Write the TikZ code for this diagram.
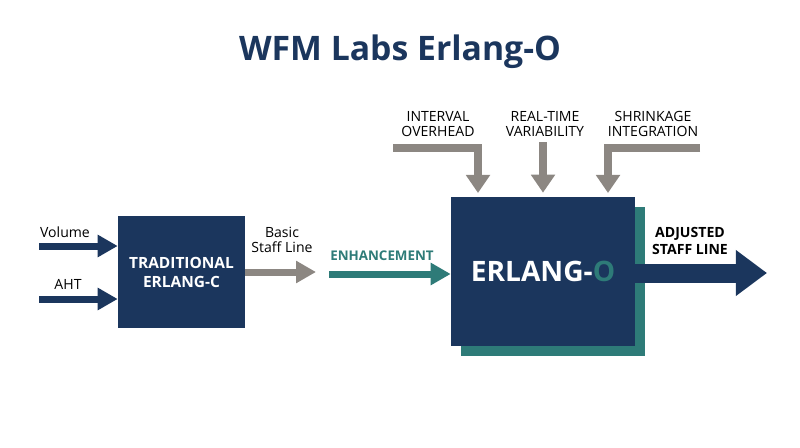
\documentclass[tikz,border=0pt]{standalone}
\usepackage{fontspec}
\setmainfont{Open Sans}
\usetikzlibrary{arrows.meta,shadows}
\definecolor{navy}{HTML}{1B365D}
\definecolor{tealc}{HTML}{2E7B78}
\definecolor{greyc}{HTML}{8C8782}

\begin{document}
\begin{tikzpicture}[
    x=0.025cm,
    y=-0.025cm,
    box/.style={fill=navy, text=white, align=center, inner sep=0pt},
    lbl/.style={font=\fontsize{10}{10.7}\selectfont, align=center, inner sep=1pt},
    thinarr/.style={line width=0.175cm, -{Triangle[length=0.5cm, width=0.53cm]}},
    toparr/.style={greyc, line width=0.22cm, line join=miter,
        -{Triangle[length=0.45cm, width=0.58cm]}, shorten >=0.1cm}
]
\useasboundingbox (0,0) rectangle (800,447);

\node[navy, font=\fontsize{24}{24}\bfseries] (title) at (400,52) {WFM Labs Erlang-O};

% the two blocks
\node[box, minimum width=3.175cm, minimum height=2.8cm,
      font=\fontsize{11}{13.5}\bfseries] (erlc) at (181.5,272) {TRADITIONAL\\ERLANG-C};
\node[box, minimum width=4.6cm, minimum height=3.725cm,
      font=\fontsize{20}{20}\bfseries,
      general shadow={fill=tealc, shadow xshift=0.26cm, shadow yshift=-0.26cm}]
      (erlo) at (543,271.5) {ERLANG-\textcolor{tealc}{O}};

% inputs of Erlang-C
\coordinate (volin) at (39,246);
\coordinate (ahtin) at (39,299);
\draw[thinarr, navy] (volin) -- (volin -| erlc.west);
\draw[thinarr, navy] (ahtin) -- (ahtin -| erlc.west);
\node[lbl] (vol) at (65,232) {Volume};
\node[lbl] (aht) at (68,284) {AHT};

% basic staff line
\coordinate (basicend) at (316,272);
\draw[thinarr, greyc] (erlc.east) -- (basicend);
\node[lbl] (basic) at (282,240) {Basic\\Staff Line};

% enhancement
\coordinate (enhin) at (329,274);
\draw[thinarr, tealc] (enhin) -- (enhin -| erlo.west);
\node[lbl, tealc, font=\fontsize{9.5}{11}\bfseries] (enh) at (382,256) {ENHANCEMENT};

% the three adjustments from above
\coordinate (ovin) at (393,148);
\coordinate (varin) at (543,142);
\coordinate (shrin) at (700,148);
\draw[toparr] (ovin) -- (478,148) -- (478,197);
\draw[toparr] (varin) -- (varin |- erlo.north);
\draw[toparr] (shrin) -- (608,148) -- (608,197);
\node[lbl] (ov) at (438,124) {INTERVAL\\OVERHEAD};
\node[lbl] (var) at (545,124) {REAL-TIME\\VARIABILITY};
\node[lbl] (shr) at (653,124) {SHRINKAGE\\INTEGRATION};

% output
\coordinate (outend) at (767,273);
\draw[navy, line width=0.475cm, -{Triangle[length=0.78cm, width=1.1cm]}]
    (erlo.east |- outend) -- (outend);
\node[lbl, font=\fontsize{10}{11.5}\bfseries] (adj) at (690,241) {ADJUSTED\\STAFF LINE};
\end{tikzpicture}
\end{document}
